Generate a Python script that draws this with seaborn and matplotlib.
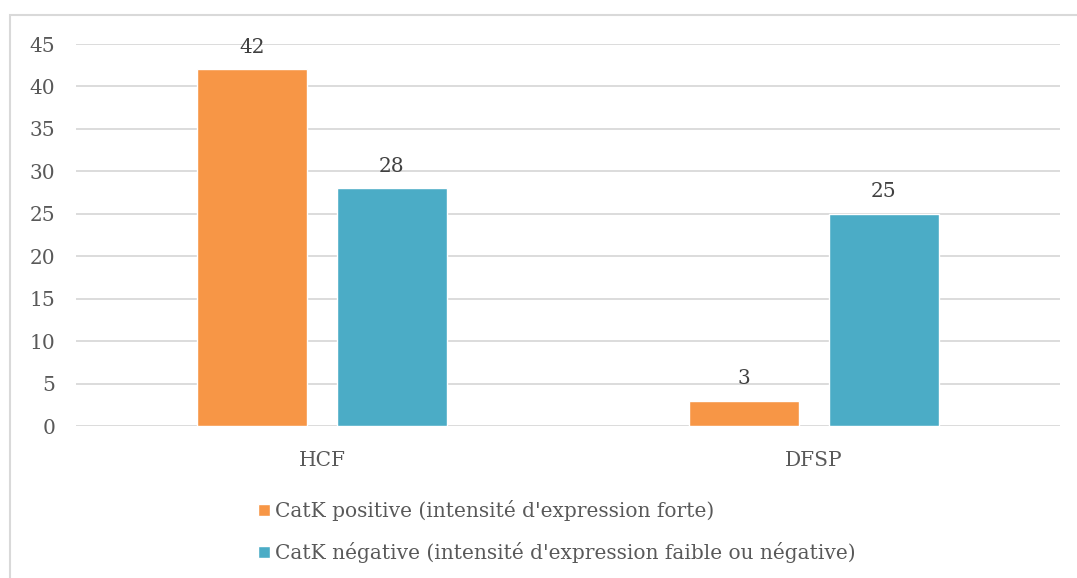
import pandas as pd
import seaborn as sns
import matplotlib.pyplot as plt
from matplotlib.patches import Rectangle

# chart values
groups = ['HCF', 'DFSP']
positive = [42, 3]
negative = [28, 25]
series = ["CatK positive (intensité d'expression forte)",
          "CatK négative (intensité d'expression faible ou négative)"]
yticks = [0, 5, 10, 15, 20, 25, 30, 35, 40, 45]

df = pd.DataFrame({
    'groupe': groups * 2,
    'valeur': positive + negative,
    'serie': [series[0]] * len(groups) + [series[1]] * len(groups),
})

sns.set_theme(style='white')
plt.rcParams['font.family'] = ['DejaVu Serif']
txt = '#595959'
fs = 14.5

fig = plt.figure(figsize=(10.77, 5.78), dpi=100)
ax = fig.add_axes([76/1077, 1-426/578, (1060-76)/1077, (426-44)/578])

# outer chart border (Excel style)
fig.patches.append(Rectangle((10/1077, -0.1), 1.2, 1-15/578+0.1, transform=fig.transFigure,
                             fill=False, edgecolor='#D9D9D9', linewidth=1.5, zorder=0))

sns.barplot(data=df, x='groupe', y='valeur', hue='serie', order=groups, hue_order=series,
            palette=['#F79646', '#4BACC6'], width=0.569, gap=0.213, saturation=1,
            ax=ax, zorder=3)

ax.set_ylim(0, 45)
ax.set_xlim(-0.5, 1.5)
ax.set_yticks(yticks)
ax.yaxis.grid(True, color='#D9D9D9', linewidth=1.3, zorder=0)
ax.set_axisbelow(True)
for s in ax.spines.values():
    s.set_visible(False)
ax.set_xlabel('')
ax.set_ylabel('')
ax.tick_params(axis='y', length=0, pad=15, labelsize=fs, labelcolor=txt)
ax.tick_params(axis='x', length=0, pad=18, labelsize=fs, labelcolor=txt)

for c in ax.containers:
    ax.bar_label(c, padding=9, fontsize=fs, color='#404040')

leg = ax.legend(loc='upper left', bbox_to_anchor=(250/1077, 1-492/578), bbox_transform=fig.transFigure,
                frameon=False, fontsize=fs, handlelength=0.6, handleheight=0.6,
                handletextpad=0.25, labelspacing=1.05, borderaxespad=0)
for t in leg.get_texts():
    t.set_color(txt)

fig.savefig('out.png', dpi=100)
